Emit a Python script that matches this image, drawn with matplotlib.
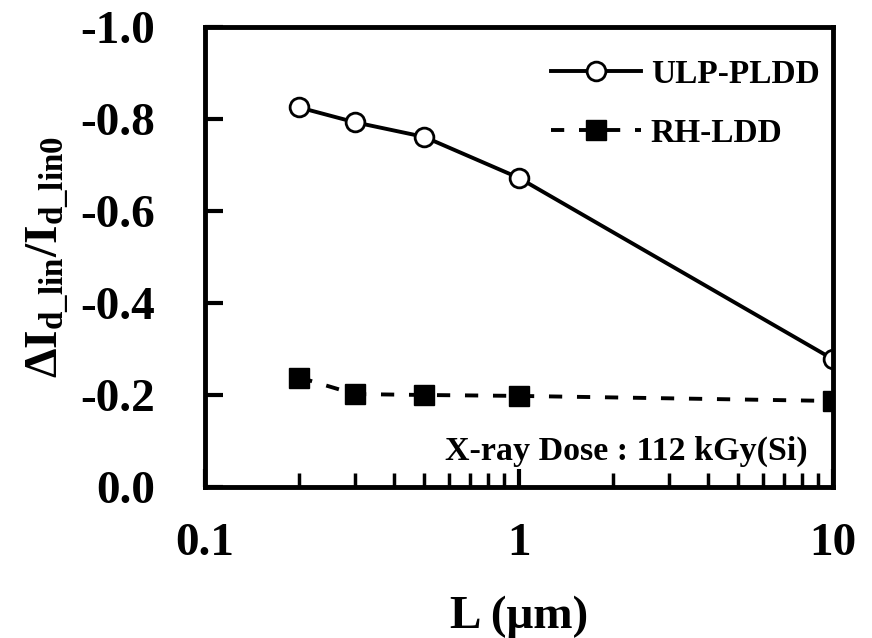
import numpy as np
import matplotlib
matplotlib.use("Agg")
import matplotlib.pyplot as plt
from matplotlib.ticker import LogLocator, NullFormatter, FixedLocator

# Data
length_um = [0.2, 0.3, 0.5, 1.0, 10.0]
ulp_pldd = [-0.825, -0.793, -0.761, -0.672, -0.278]
rh_ldd = [-0.238, -0.202, -0.200, -0.198, -0.187]
y_ticks = [-1.0, -0.8, -0.6, -0.4, -0.2, 0.0]
y_tick_labels = ["-1.0", "-0.8", "-0.6", "-0.4", "-0.2", "0.0"]
x_ticks = [0.1, 1, 10]
x_tick_labels = ["0.1", "1", "10"]

plt.rcParams["font.family"] = ["Liberation Serif", "DejaVu Serif"]
plt.rcParams["font.weight"] = "bold"
plt.rcParams["mathtext.fontset"] = "custom"
plt.rcParams["mathtext.rm"] = "Liberation Serif:bold"
plt.rcParams["mathtext.bf"] = "Liberation Serif:bold"
plt.rcParams["mathtext.it"] = "Liberation Serif:italic:bold"

fig = plt.figure(figsize=(8.72, 6.38), dpi=100)
ax = fig.add_axes([0.235, 0.2367, 0.720, 0.721])

ax.plot(length_um, ulp_pldd, color="black", lw=2.8, marker="o", ms=13.5,
        mfc="white", mec="black", mew=2, label="ULP-PLDD")
ax.plot(length_um, rh_ldd, color="black", lw=2.8, ls=(0, (3.4, 3.8)),
        marker="s", ms=14, mfc="black", mec="black", label="RH-LDD")

ax.set_xscale("log")
ax.set_xlim(0.1, 10)
ax.set_ylim(0.0, -1.0)

ax.xaxis.set_major_locator(FixedLocator(x_ticks))
ax.set_xticklabels(x_tick_labels)
ax.xaxis.set_minor_locator(LogLocator(base=10, subs=np.arange(2, 10)))
ax.xaxis.set_minor_formatter(NullFormatter())
ax.set_yticks(y_ticks)
ax.set_yticklabels(y_tick_labels)

ax.tick_params(axis="both", which="major", direction="in", length=13,
               width=3, labelsize=34)
ax.tick_params(axis="x", which="major", pad=26)
ax.tick_params(axis="y", which="major", pad=36)
ax.tick_params(axis="x", which="minor", direction="in", length=10, width=2.5)
for s in ax.spines.values():
    s.set_linewidth(3.5)

ax.set_xlabel("L (μm)", fontsize=34, fontweight="bold", labelpad=22)
ax.set_ylabel(r"$\mathrm{\Delta I_{d\_lin}/I_{d\_lin0}}$", fontsize=34,
              labelpad=6)

leg = ax.legend(loc="upper right", bbox_to_anchor=(0.979, 0.931),
                frameon=False, fontsize=24, handlelength=2.7,
                handletextpad=0.3, labelspacing=0.85, borderpad=0,
                borderaxespad=0)

ax.text(0.960, 0.0587, "X-ray Dose : 112 kGy(Si)", transform=ax.transAxes,
        ha="right", va="baseline", fontsize=24.5, fontweight="bold")

fig.savefig("out.png", dpi=100)
